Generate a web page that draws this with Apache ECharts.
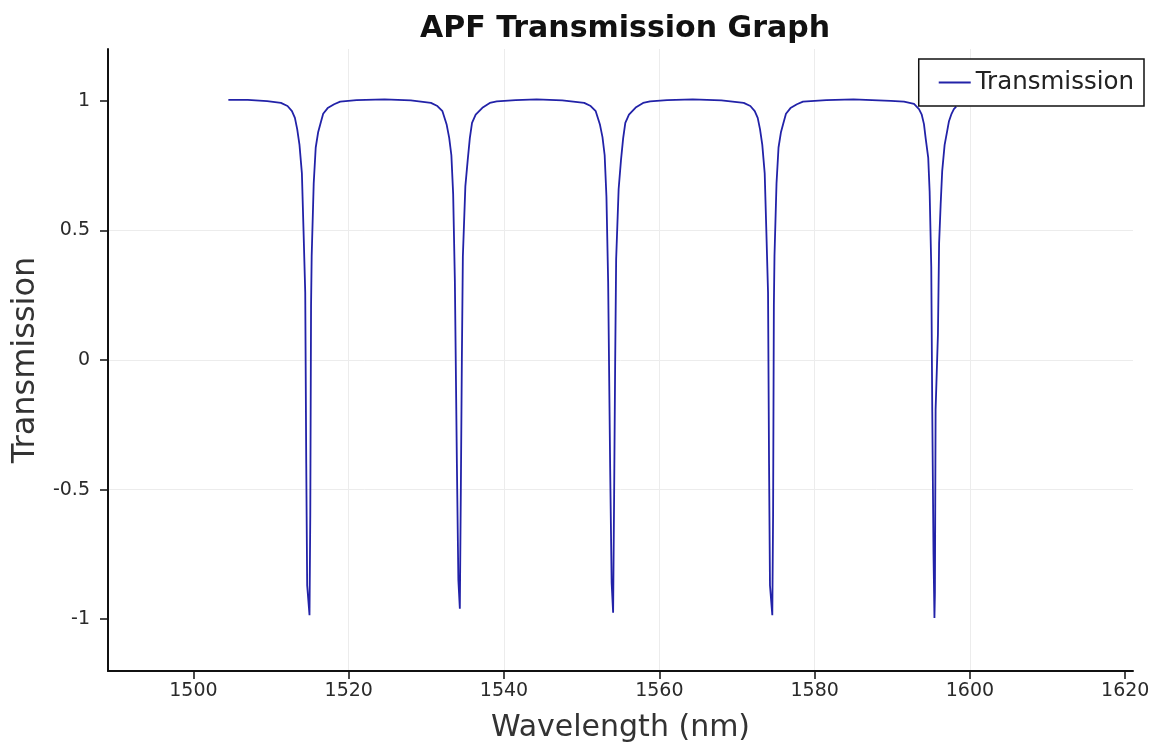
<!DOCTYPE html>
<html>
<head>
<meta charset="utf-8">
<script src="https://cdn.jsdelivr.net/npm/echarts@6/dist/echarts.min.js"></script>
<style>
html,body{margin:0;padding:0;background:#fff;}
#chart{width:1163px;height:749px;}
</style>
</head>
<body>
<div id="chart"></div>
<script>
// ---- data ----
var titleText = 'APF Transmission Graph';
var xAxisName = 'Wavelength (nm)';
var yAxisName = 'Transmission';
var seriesName = 'Transmission';

var xTickValues = [1500, 1520, 1540, 1560, 1580, 1600, 1620];
var yTickValues = [-1, -0.5, 0, 0.5, 1];

var dip1Wavelength = [1504.5, 1507.0, 1509.5, 1511.27, 1512.12, 1512.69, 1513.07, 1513.37, 1513.66, 1513.97, 1514.18, 1514.40, 1514.53, 1514.65, 1514.95, 1515.05, 1515.15, 1515.23, 1515.49, 1515.75, 1516.07, 1516.39, 1516.71, 1517.29, 1518.12, 1518.90, 1521.0];
var dip1Transmission = [1.004, 1.004, 0.999, 0.992, 0.98, 0.96, 0.934, 0.89, 0.83, 0.72, 0.50, 0.26, -0.40, -0.87, -0.985, -0.60, 0.21, 0.40, 0.68, 0.82, 0.88, 0.915, 0.95, 0.972, 0.987, 0.997, 1.003];

var dip2Wavelength = [1524.6, 1528.0, 1530.59, 1531.42, 1532.07, 1532.60, 1532.94, 1533.22, 1533.45, 1533.67, 1533.93, 1534.12, 1534.31, 1534.44, 1534.57, 1534.70, 1535.02, 1535.32, 1535.60, 1535.88, 1536.35, 1537.21, 1538.17, 1539.07, 1541.5];
var dip2Transmission = [1.006, 1.002, 0.992, 0.98, 0.96, 0.91, 0.857, 0.79, 0.64, 0.305, -0.40, -0.85, -0.96, -0.50, 0.0, 0.40, 0.67, 0.77, 0.857, 0.915, 0.947, 0.973, 0.992, 0.998, 1.003];

var dip3Wavelength = [1544.2, 1547.5, 1550.33, 1551.16, 1551.81, 1552.34, 1552.68, 1552.96, 1553.19, 1553.41, 1553.67, 1553.86, 1554.05, 1554.18, 1554.31, 1554.44, 1554.76, 1555.06, 1555.34, 1555.62, 1556.09, 1556.95, 1557.91, 1558.81, 1561.0];
var dip3Transmission = [1.006, 1.002, 0.992, 0.98, 0.96, 0.91, 0.86, 0.79, 0.63, 0.30, -0.42, -0.86, -0.975, -0.52, -0.02, 0.39, 0.66, 0.77, 0.855, 0.915, 0.947, 0.974, 0.992, 0.998, 1.003];

var dip4Wavelength = [1564.3, 1568.0, 1570.87, 1571.72, 1572.29, 1572.67, 1572.97, 1573.26, 1573.57, 1573.78, 1574.00, 1574.13, 1574.25, 1574.55, 1574.65, 1574.75, 1574.83, 1575.09, 1575.35, 1575.67, 1575.99, 1576.31, 1576.89, 1577.72, 1578.50, 1581.5];
var dip4Transmission = [1.006, 1.002, 0.992, 0.98, 0.96, 0.934, 0.89, 0.83, 0.72, 0.50, 0.26, -0.40, -0.87, -0.985, -0.60, 0.21, 0.40, 0.68, 0.82, 0.88, 0.915, 0.95, 0.972, 0.987, 0.997, 1.003];

var dip5Wavelength = [1585.0, 1589.8, 1591.51, 1592.80, 1593.44, 1593.78, 1594.08, 1594.30, 1594.63, 1594.81, 1595.02, 1595.15, 1595.31, 1595.43, 1595.49, 1595.58, 1595.88, 1596.03, 1596.23, 1596.43, 1596.74, 1597.08, 1597.29, 1597.63, 1597.93, 1598.23];
var dip5Transmission = [1.006, 1.0, 0.997, 0.988, 0.968, 0.948, 0.91, 0.855, 0.78, 0.65, 0.36, -0.20, -0.75, -0.995, -0.90, -0.19, 0.10, 0.45, 0.60, 0.73, 0.83, 0.885, 0.92, 0.95, 0.968, 0.978];

// ---- build the series data ----
var wlParts = [dip1Wavelength, dip2Wavelength, dip3Wavelength, dip4Wavelength, dip5Wavelength];
var trParts = [dip1Transmission, dip2Transmission, dip3Transmission, dip4Transmission, dip5Transmission];
var lineData = [];
for (var p = 0; p < wlParts.length; p++) {
  for (var i = 0; i < wlParts[p].length; i++) {
    lineData.push([wlParts[p][i], trParts[p][i]]);
  }
}

var FONT = 'DejaVu Sans';
var chart = echarts.init(document.getElementById('chart'), null, {renderer: 'canvas'});
chart.setOption({
  animation: false,
  backgroundColor: '#ffffff',
  title: {
    text: titleText,
    left: 620,
    textAlign: 'center',
    top: 9,
    textStyle: {fontFamily: FONT, fontSize: 30, fontWeight: 'bold', color: '#111'}
  },
  legend: {
    data: [seriesName],
    right: 19,
    top: 59,
    orient: 'horizontal',
    icon: 'rect',
    itemWidth: 32,
    itemHeight: 2,
    padding: [11, 10, 11, 20],
    backgroundColor: '#ffffff',
    borderColor: '#111',
    borderWidth: 1.5,
    borderRadius: 0,
    textStyle: {fontFamily: FONT, fontSize: 24.5, color: '#222'}
  },
  grid: {left: 108, right: 30, top: 49, bottom: 78, containLabel: false},
  xAxis: {
    type: 'value',
    min: 1489,
    max: 1621,
    splitNumber: 7,
    name: xAxisName,
    nameLocation: 'middle',
    nameGap: 42,
    nameTextStyle: {fontFamily: FONT, fontSize: 30, color: '#333'},
    axisLine: {show: true, onZero: false, lineStyle: {color: '#111', width: 2}},
    axisTick: {show: true, length: 8, inside: false, customValues: xTickValues, lineStyle: {color: '#111', width: 1.5}},
    axisLabel: {customValues: xTickValues, margin: 11, fontFamily: FONT, fontSize: 19, color: '#2a2a2a',
      formatter: function (v) { return String(v); }},
    splitLine: {show: true, showMinLine: false, showMaxLine: false, lineStyle: {color: '#ececec', width: 1}}
  },
  yAxis: {
    type: 'value',
    min: -1.2,
    max: 1.2,
    splitNumber: 5,
    name: yAxisName,
    nameLocation: 'middle',
    nameGap: 62,
    nameTextStyle: {fontFamily: FONT, fontSize: 32, color: '#333'},
    axisLine: {show: true, onZero: false, lineStyle: {color: '#111', width: 2}},
    axisTick: {show: true, length: 8, inside: false, customValues: yTickValues, lineStyle: {color: '#111', width: 1.5}},
    axisLabel: {customValues: yTickValues, margin: 18, fontFamily: FONT, fontSize: 19, color: '#2a2a2a',
      formatter: function (v) { return String(v); }},
    splitLine: {show: true, showMinLine: false, showMaxLine: false, lineStyle: {color: '#ececec', width: 1}}
  },
  series: [{
    name: seriesName,
    type: 'line',
    data: lineData,
    showSymbol: false,
    symbol: 'none',
    color: '#2222a8',
    lineStyle: {color: '#2222a8', width: 1.8},
    itemStyle: {color: '#2222a8'}
  }]
});
</script>
</body>
</html>
